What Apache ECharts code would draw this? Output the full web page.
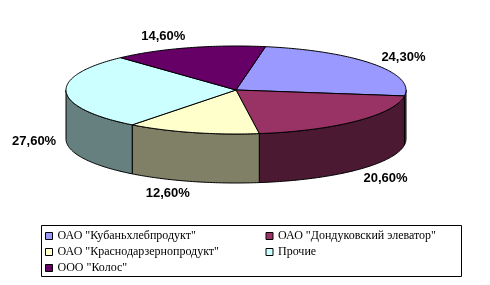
<!DOCTYPE html>
<html>
<head>
<meta charset="utf-8">
<script src="https://cdn.jsdelivr.net/npm/echarts@6/dist/echarts.min.js"></script>
<style>html,body{margin:0;padding:0;background:#fff}#main{width:490px;height:285px}</style>
</head>
<body>
<div id="main"></div>
<script>
const categories = ['ОАО "Кубаньхлебпродукт"', 'ОАО "Дондуковский элеватор"', 'ОАО "Краснодарзернопродукт"', 'Прочие', 'ООО "Колос"'];
const values = [24.3, 20.6, 12.6, 27.6, 14.6];
const valueLabels = ['24,30%', '20,60%', '12,60%', '27,60%', '14,60%'];
const topColors = ['#9999FF', '#993366', '#FFFFCC', '#CCFFFF', '#660066'];
const sideColors = ['#4C4C80', '#4C1933', '#808066', '#668080', '#330033'];

// layout (style constants)
const CX = 236, CY = 90, RX = 170, RY = 44, DEPTH = 49, START = 10;

const total = values.reduce((a, b) => a + b, 0);
const bounds = [];
let acc = 0;
values.forEach(v => { const a = START + acc / total * 360; acc += v; bounds.push([a, START + acc / total * 360]); });

function pt(deg, dy) {
  const r = deg * Math.PI / 180;
  return [CX + RX * Math.sin(r), CY - RY * Math.cos(r) + (dy || 0)];
}
function arc(a, b, dy) {
  const pts = [];
  const n = Math.max(2, Math.ceil(Math.abs(b - a)));
  for (let i = 0; i <= n; i++) pts.push(pt(a + (b - a) * i / n, dy));
  return pts;
}

function renderSide(params, api) {
  const i = params.dataIndex;
  const [a, b] = bounds[i];
  const children = [];
  [[90, 270], [450, 630]].forEach(([lo, hi]) => {
    const s = Math.max(a, lo), e = Math.min(b, hi);
    if (e > s) {
      const pts = arc(s, e, 0).concat(arc(e, s, DEPTH));
      children.push({ type: 'polygon', shape: { points: pts },
        style: { fill: sideColors[i], stroke: '#000', lineWidth: 1 } });
    }
  });
  return { type: 'group', children };
}

function renderTop(params, api) {
  const i = params.dataIndex;
  const [a, b] = bounds[i];
  const pts = [[CX, CY]].concat(arc(a, b, 0));
  const mid = (a + b) / 2;
  const r = mid * Math.PI / 180;
  const s = Math.sin(r), c = Math.cos(r);
  const lx = CX + (RX + 10) * s;
  const ly = CY - (RY + 12) * c + (c < 0 ? DEPTH : 0);
  return { type: 'group', children: [
    { type: 'polygon', shape: { points: pts }, style: { fill: topColors[i], stroke: '#000', lineWidth: 1 } },
    { type: 'text', x: lx, y: ly, style: { text: valueLabels[i], fill: '#000',
        font: 'bold 13px "Liberation Sans", Arial, sans-serif',
        align: s >= 0 ? 'left' : 'right', verticalAlign: 'middle' } }
  ] };
}

const chart = echarts.init(document.getElementById('main'), null, { renderer: 'canvas' });
chart.setOption({
  backgroundColor: '#fff',
  animation: false,
  graphic: [{ type: 'rect', shape: { x: 41.5, y: 225.5, width: 420, height: 51 },
    style: { fill: 'none', stroke: '#000', lineWidth: 1 }, silent: true }],
  legend: {
    left: 45, top: 228, width: 445,
    orient: 'horizontal',
    padding: 0,
    itemGap: 0,
    itemWidth: 7, itemHeight: 7,
    icon: 'rect',
    itemStyle: { borderColor: '#000', borderWidth: 1 },
    textStyle: { fontFamily: 'Liberation Serif', fontSize: 12, color: '#000', width: 208, lineHeight: 16 },
    data: categories
  },
  series: [
    { type: 'custom', coordinateSystem: 'none', renderItem: renderSide, data: values.map(v => [v]), z: 1, silent: true },
    { type: 'custom', coordinateSystem: 'none', renderItem: renderTop, data: values.map(v => [v]), z: 2, silent: true },
    { type: 'pie', radius: [0, 0], center: [-50, -50], label: { show: false }, labelLine: { show: false }, silent: true,
      data: categories.map((n, i) => ({ name: n, value: values[i], itemStyle: { color: topColors[i] } })) }
  ]
});
</script>
</body>
</html>
